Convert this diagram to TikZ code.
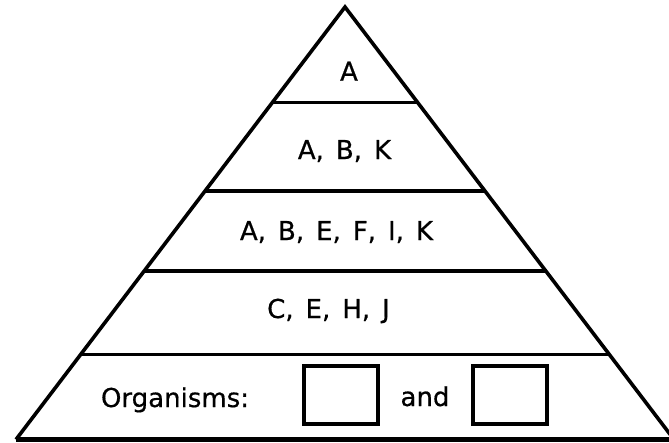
\documentclass[tikz,border=0pt]{standalone}
\usepackage{fontspec}
\newfontfamily\vfont[FakeBold=0.6]{DejaVu Sans}
\newcommand\lblfont{\vfont\fontsize{26}{31}\selectfont\spaceskip 12pt\relax}
\usetikzlibrary{calc}
\begin{document}
\begin{tikzpicture}[x=1pt,y=-1pt,
  edge/.style={line width=3.6pt,black},
  lbl/.style={anchor=base,inner sep=0pt,font=\lblfont},
  answerbox/.style={draw,line width=3.2pt,minimum width=74pt,minimum height=58pt,inner sep=0pt}]
\useasboundingbox (0,0) rectangle (669,442);
\fill[white] (0,0) rectangle (669,442);
\coordinate (apex) at (345,7);
\coordinate (bl) at (16,439.5);
\coordinate (br) at (674,439.5);
\draw[edge,line join=miter] (bl) -- (apex) -- (br);
\draw[line width=5pt] (bl) -- (br);
\foreach \t in {0.221,0.425,0.610,0.803}{
  \draw[edge] ($(apex)!\t!(bl)$) -- ($(apex)!\t!(br)$);
}
\node[lbl] (l1) at (349,80.7) {A};
\node[lbl] (l2) at (344.5,159) {A, B, K};
\node[lbl] (l3) at (336.5,240) {A, B, E, F, I, K};
\node[lbl] (l4) at (328.5,318) {C, E, H, J};
\node[lbl] (org) at (175,407) {Organisms:};
\node[answerbox] (b1) at (341,395) {};
\node[lbl] (and) at (425,406) {and};
\node[answerbox] (b2) at (510,395) {};
\end{tikzpicture}
\end{document}
